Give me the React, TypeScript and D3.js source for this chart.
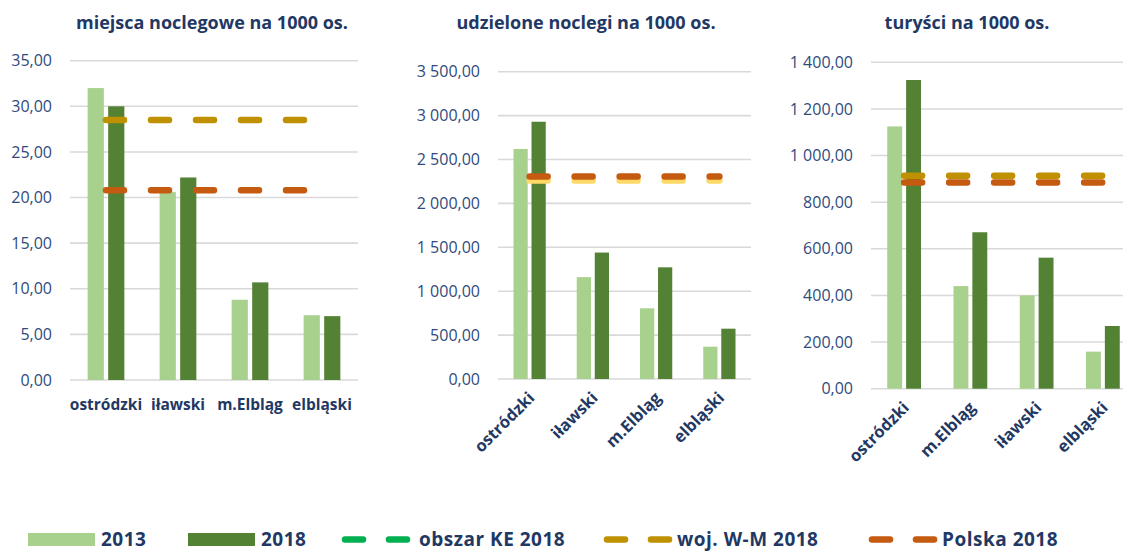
import React from "react";
import * as d3 from "d3";

const seriesYears = ["2013", "2018"];
const cats1 = ["ostródzki", "iławski", "m.Elbląg", "elbląski"];
const beds2013 = [32.0, 20.6, 8.8, 7.1];
const beds2018 = [30.0, 22.2, 10.7, 7.0];
const bedsWM = [28.5, 28.5, 28.5, 28.5];
const bedsPL = [20.8, 20.8, 20.8, 20.8];
const bedsTicks = [0, 5, 10, 15, 20, 25, 30, 35];

const cats2 = ["ostródzki", "iławski", "m.Elbląg", "elbląski"];
const nights2013 = [2620, 1160, 805, 368];
const nights2018 = [2930, 1440, 1272, 573];
const nightsWM = [2260, 2260, 2260, 2260];
const nightsPL = [2305, 2305, 2305, 2305];
const nightsTicks = [0, 500, 1000, 1500, 2000, 2500, 3000, 3500];

const cats3 = ["ostródzki", "m.Elbląg", "iławski", "elbląski"];
const tour2013 = [1125, 440, 400, 159];
const tour2018 = [1324, 671, 562, 269];
const tourWM = [913, 913, 913, 913];
const tourPL = [884, 884, 884, 884];
const tourTicks = [0, 200, 400, 600, 800, 1000, 1200, 1400];

const titles = ["miejsca noclegowe na 1000 os.", "udzielone noclegi na 1000 os.", "turyści na 1000 os."];
const legendLabels = [seriesYears[0], seriesYears[1], "obszar KE 2018", "woj. W-M 2018", "Polska 2018"];

const C2013 = "#A9D18E";
const C2018 = "#548235";
const CKE = "#00B050";
const CWM = "#BF9000";
const CWM2 = "#FFD966";
const CPL = "#C55A11";
const NAVY = "#1F3864";
const TICK = "#2F4B7C";
const GRID = "#D9D9D9";
const FONT = "'Open Sans', 'Noto Sans', sans-serif";

const pl = d3.formatLocale({ decimal: ",", thousands: " ", grouping: [3], currency: ["", " zł"] });
const fmt = pl.format(",.2f");

type Panel = {
  title: string;
  cats: string[];
  a: number[];
  b: number[];
  wm: number[];
  wmColor: string;
  pl: number[];
  ticks: number[];
  x0: number;
  x1: number;
  yTop: number;
  yBot: number;
  titleX: number;
  rotate: boolean;
};

const panels: Panel[] = [
  { title: titles[0], cats: cats1, a: beds2013, b: beds2018, wm: bedsWM, wmColor: CWM, pl: bedsPL, ticks: bedsTicks, x0: 70, x1: 358, yTop: 60.7, yBot: 380, titleX: 212, rotate: false },
  { title: titles[1], cats: cats2, a: nights2013, b: nights2018, wm: nightsWM, wmColor: CWM2, pl: nightsPL, ticks: nightsTicks, x0: 498, x1: 751, yTop: 71.7, yBot: 379, titleX: 586, rotate: true },
  { title: titles[2], cats: cats3, a: tour2013, b: tour2018, wm: tourWM, wmColor: CWM, pl: tourPL, ticks: tourTicks, x0: 871, x1: 1136, yTop: 62.3, yBot: 388.7, titleX: 967, rotate: true },
];

function ChartPanel({ p }: { p: Panel }) {
  const x = d3.scaleBand<string>().domain(p.cats).range([p.x0, p.x1]);
  const maxT = p.ticks[p.ticks.length - 1];
  const y = d3.scaleLinear().domain([0, maxT]).range([p.yBot, p.yTop]);
  const bw = x.bandwidth();
  const barW = bw * 0.225;
  const gap = bw * 0.06;
  const cx = (c: string) => (x(c) as number) + bw / 2;
  const line = d3
    .line<number>()
    .x((_, i) => cx(p.cats[i]))
    .y((v) => y(v));
  return (
    <g>
      <text x={p.titleX} y={29} textAnchor="middle" fontFamily={FONT} fontWeight={700} fontSize={18} fill={NAVY}>
        {p.title}
      </text>
      {p.ticks.map((t) => (
        <g key={t}>
          <line x1={p.x0} x2={Math.min(p.x1, 1123)} y1={y(t)} y2={y(t)} stroke={GRID} strokeWidth={1.6} />
          <text x={p.x0 - 18} y={y(t)} dy="0.35em" textAnchor="end" fontFamily={FONT} fontSize={16} fill={TICK}>
            {fmt(t)}
          </text>
        </g>
      ))}
      {p.cats.map((c, i) => (
        <g key={c}>
          <rect x={cx(c) - gap / 2 - barW} y={y(p.a[i])} width={barW} height={p.yBot - y(p.a[i])} fill={C2013} />
          <rect x={cx(c) + gap / 2} y={y(p.b[i])} width={barW} height={p.yBot - y(p.b[i])} fill={C2018} />
        </g>
      ))}
      <path d={line(p.wm) || ""} fill="none" stroke={p.wmColor} strokeWidth={6.5} strokeLinecap="round" strokeDasharray="18 27" />
      <path d={line(p.pl) || ""} fill="none" stroke={CPL} strokeWidth={6.5} strokeLinecap="round" strokeDasharray="18 27" />
      {p.cats.map((c) =>
        p.rotate ? (
          <text
            key={c}
            transform={`translate(${cx(c) + 6},${p.yBot + 20}) rotate(-45)`}
            textAnchor="end"
            fontFamily={FONT}
            fontWeight={700}
            fontSize={16.5}
            fill={NAVY}
          >
            {c}
          </text>
        ) : (
          <text key={c} x={cx(c)} y={p.yBot + 30} textAnchor="middle" fontFamily={FONT} fontWeight={700} fontSize={15.5} fill={NAVY}>
            {c}
          </text>
        )
      )}
    </g>
  );
}

function Legend() {
  const ly = 539;
  const items = [
    { type: "rect", color: C2013, x: 28, tx: 101, label: legendLabels[0] },
    { type: "rect", color: C2018, x: 188, tx: 261, label: legendLabels[1] },
    { type: "dash", color: CKE, x: 342, tx: 419, label: legendLabels[2] },
    { type: "dash", color: CWM, x: 604, tx: 677, label: legendLabels[3] },
    { type: "dash", color: CPL, x: 869, tx: 942, label: legendLabels[4] },
  ];
  return (
    <g>
      {items.map((it) => (
        <g key={it.label}>
          {it.type === "rect" ? (
            <rect x={it.x} y={ly - 6} width={67} height={13} fill={it.color} />
          ) : (
            <g>
              <line x1={it.x + 3} x2={it.x + 21} y1={ly + 0.5} y2={ly + 0.5} stroke={it.color} strokeWidth={6.5} strokeLinecap="round" />
              <line x1={it.x + 47} x2={it.x + 65} y1={ly + 0.5} y2={ly + 0.5} stroke={it.color} strokeWidth={6.5} strokeLinecap="round" />
            </g>
          )}
          <text x={it.tx} y={ly} dy="0.36em" fontFamily={FONT} fontWeight={700} fontSize={19} letterSpacing={0.5} fill={NAVY}>
            {it.label}
          </text>
        </g>
      ))}
    </g>
  );
}

export default function App() {
  return (
    <div style={{ position: "absolute", left: 0, top: 0 }}>
      <svg width={1123} height={552} style={{ display: "block", background: "#fff" }}>
        {panels.map((p, i) => (
          <ChartPanel key={i} p={p} />
        ))}
        <Legend />
      </svg>
    </div>
  );
}
